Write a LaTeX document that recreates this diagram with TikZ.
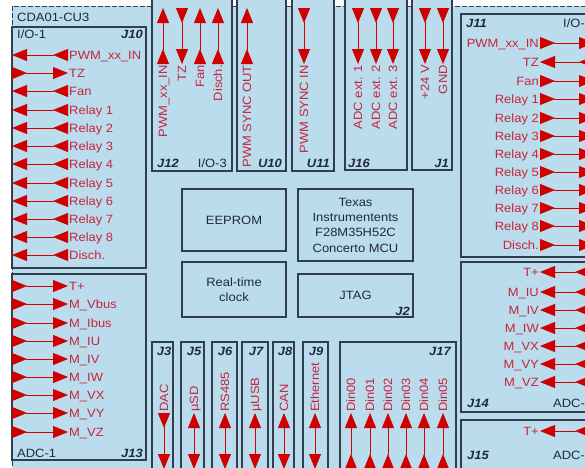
\documentclass[tikz,border=0pt]{standalone}
\usepackage{fontspec}
\setmainfont{Liberation Sans}[FakeStretch=1.08]
\usetikzlibrary{arrows.meta}

\definecolor{board}{RGB}{186,220,237}
\definecolor{frame}{RGB}{48,62,78}
\definecolor{sigline}{RGB}{208,0,0}
\definecolor{sigtext}{RGB}{198,36,58}
\definecolor{ink}{RGB}{32,42,56}

\tikzset{sigtip/.tip={Triangle[length=15pt,width=12pt]},
  sigback/.tip={Triangle[length=15pt,width=12pt,reversed]}}

\begin{document}
\begin{tikzpicture}[x=1pt,y=-1pt,
  font=\fontsize{12}{15}\selectfont, text=ink,
  conbox/.style={draw=frame, line width=1.4pt, fill=board},
  chip/.style={conbox, align=center, inner sep=2pt},
  sig/.style={text=sigtext, inner sep=1pt, text height=9pt, text depth=1pt},
  vsig/.style={sig, rotate=90},
  jlab/.style={font=\fontsize{12}{15}\selectfont\bfseries\itshape, inner sep=1pt},
  plab/.style={inner sep=1pt},
  toedge/.style={draw=sigline, line width=0.8pt, {sigback}-{sigtip}},
  totext/.style={draw=sigline, line width=0.8pt, {sigtip}-{sigback}},
  twoway/.style={draw=sigline, line width=0.8pt, {sigtip}-{sigtip}},
]
\useasboundingbox (0,0) rectangle (585,467);
\clip (0,0) rectangle (585,467);
\fill[white] (0,0) rectangle (585,467);
\fill[board] (12,6) rectangle (600,480);
\draw[frame, line width=1pt, dash pattern=on 5pt off 2pt] (12,480) -- (12,6) -- (600,6);
\node[plab, anchor=west] (cu) at (16,17) {CDA01-CU3};

% connector frames
\draw[conbox] (12,27) rectangle (146,268);
\draw[conbox] (12,274) rectangle (146,460);
\draw[conbox] (152,-5) rectangle (232,171);
\draw[conbox] (237,-5) rectangle (286,171);
\draw[conbox] (292,-5) rectangle (334,171);
\draw[conbox] (345,-5) rectangle (407,170);
\draw[conbox] (412,-5) rectangle (452,170);
\draw[conbox] (461,14) rectangle (600,257);
\draw[conbox] (461,262) rectangle (600,412);
\draw[conbox] (461,420) rectangle (600,480);
\draw[conbox] (152,342) rectangle (173,480);
\draw[conbox] (181,342) rectangle (204,480);
\draw[conbox] (212,342) rectangle (237,480);
\draw[conbox] (242,342) rectangle (268,480);
\draw[conbox] (273,342) rectangle (294,480);
\draw[conbox] (303,342) rectangle (328,480);
\draw[conbox] (340,342) rectangle (456,480);

% on-board parts
\node[chip, minimum width=104pt, minimum height=62pt] (eeprom) at (234,220) {EEPROM};
\node[chip, minimum width=115pt, minimum height=72pt, font=\fontsize{12}{15.3}\selectfont] (mcu) at (355.5,225) {Texas\\Instrumentents\\F28M35H52C\\Concerto MCU};
\node[chip, minimum width=104pt, minimum height=55pt] (rtc) at (234,289.5) {Real-time\\clock};
\node[chip, minimum width=115pt, minimum height=43pt] (jtag) at (355.5,295.5) {JTAG};

% frame labels
\node[plab, anchor=west] (io1) at (16,34) {I/O-1};
\node[jlab, anchor=east] (j10) at (144,34) {J10};
\node[plab, anchor=west] (adc1) at (16,453) {ADC-1};
\node[jlab, anchor=east] (j13) at (144,453) {J13};
\node[jlab, anchor=west] (j12) at (156,163) {J12};
\node[plab, anchor=east] (io3) at (228,163) {I/O-3};
\node[jlab, anchor=east] (u10) at (283,163) {U10};
\node[jlab, anchor=east] (u11) at (331,163) {U11};
\node[jlab, anchor=west] (j16) at (347,163) {J16};
\node[jlab, anchor=east] (j1) at (450,163) {J1};
\node[jlab, anchor=west] (j11) at (465,23) {J11};
\node[plab, anchor=west] (io2) at (562,23) {I/O-2};
\node[jlab, anchor=west] (j14) at (466,403) {J14};
\node[plab, anchor=west] (adc2) at (552,403) {ADC-2};
\node[jlab, anchor=west] (j15) at (466,455) {J15};
\node[plab, anchor=west] (adc3) at (552,455) {ADC-3};
\node[jlab, anchor=east] (j2) at (411,311) {J2};
\node[jlab] (j3) at (164,351) {J3};
\node[jlab] (j5) at (194,351) {J5};
\node[jlab] (j6) at (225,351) {J6};
\node[jlab] (j7) at (256,351) {J7};
\node[jlab] (j8) at (285,351) {J8};
\node[jlab] (j9) at (316,351) {J9};
\node[jlab, anchor=east] (j17) at (452,351) {J17};

% signals, left side
\foreach \y/\lbl/\kind [count=\i] in {55/PWM\_xx\_IN/toedge, 73/TZ/totext, 91/Fan/toedge,
    110/Relay 1/toedge, 128/Relay 2/toedge, 146/Relay 3/toedge, 164/Relay 4/toedge,
    183/Relay 5/toedge, 201/Relay 6/toedge, 219/Relay 7/toedge, 237/Relay 8/toedge, 255/Disch./toedge}{
  \node[sig, anchor=west] (l\i) at (68,\y) {\lbl};
  \coordinate (le\i) at (12,\y);
  \draw[\kind] (l\i.west) -- (le\i);
}
\foreach \y/\lbl [count=\i] in {286/T+, 304/M\_Vbus, 323/M\_Ibus, 341/M\_IU, 359/M\_IV,
    377/M\_IW, 395/M\_VX, 413/M\_VY, 432/M\_VZ}{
  \node[sig, anchor=west] (a\i) at (68,\y) {\lbl};
  \coordinate (ae\i) at (12,\y);
  \draw[totext] (a\i.west) -- (ae\i);
}

% signals, right side
\foreach \y/\lbl/\kind [count=\i] in {43/PWM\_xx\_IN/toedge, 62/TZ/totext, 81/Fan/toedge,
    99/Relay 1/toedge, 118/Relay 2/toedge, 136/Relay 3/toedge, 154/Relay 4/toedge,
    172/Relay 5/toedge, 190/Relay 6/toedge, 208/Relay 7/toedge, 226/Relay 8/toedge, 245/Disch./toedge}{
  \node[sig, anchor=east] (r\i) at (540,\y) {\lbl};
  \coordinate (re\i) at (594,\y);
  \draw[\kind] (r\i.east) -- (re\i);
}
\foreach \y/\lbl [count=\i] in {272/T+, 292/M\_IU, 310/M\_IV, 328/M\_IW, 346/M\_VX,
    364/M\_VY, 382/M\_VZ, 431/T+}{
  \node[sig, anchor=east] (m\i) at (540,\y) {\lbl};
  \coordinate (me\i) at (590,\y);
  \draw[totext] (m\i.east) -- (me\i);
}

% signals, top
\foreach \x/\lbl/\kind [count=\i] in {163/PWM\_xx\_IN/toedge, 182/TZ/totext, 200/Fan/toedge,
    218/Disch./toedge, 247/PWM SYNC OUT/toedge, 304/PWM SYNC IN/totext,
    358/ADC ext. 1/totext, 376/ADC ext. 2/totext, 393/ADC ext. 3/totext,
    425/+24 V/totext, 443/GND/totext}{
  \node[vsig, anchor=east] (t\i) at (\x,64) {\lbl};
  \coordinate (te\i) at (\x,8);
  \draw[\kind] (t\i.east) -- (te\i);
}

% signals, bottom
\foreach \x/\lbl/\kind [count=\i] in {164/DAC/toedge, 194/µSD/twoway, 225/RS485/twoway,
    255/µUSB/twoway, 284/CAN/twoway, 315/Ethernet/twoway,
    351/Din00/totext, 370/Din01/totext, 388/Din02/totext,
    406/Din03/totext, 424/Din04/totext, 443/Din05/totext}{
  \node[vsig, anchor=west] (b\i) at (\x,413) {\lbl};
  \coordinate (be\i) at (\x,469);
  \draw[\kind] (b\i.west) -- (be\i);
}
\end{tikzpicture}
\end{document}
